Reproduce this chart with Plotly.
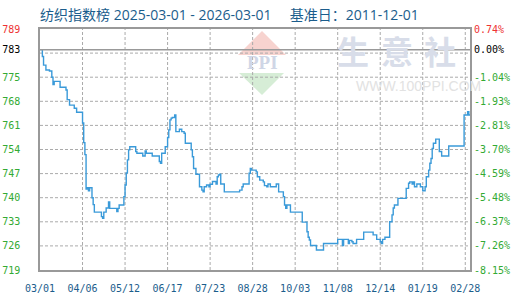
import pandas as pd
import plotly.graph_objects as go

start_date = "2025-03-01"
end_date = "2026-02-28"

# days since 2025-03-01 where the index changes, and the index value from that day
day_offsets = [0, 2, 3, 5, 8, 10, 11, 12, 17, 22, 23, 25, 29, 31, 36, 37, 38, 39, 40, 41,
               42, 44, 45, 46, 52, 53, 54, 56, 58, 59, 65, 66, 67, 71, 72, 73, 74, 75, 76, 81,
               82, 87, 89, 90, 95, 101, 102, 103, 106, 108, 109, 110, 111, 112, 114, 115, 118, 120, 122, 123,
               128, 129, 130, 132, 135, 137, 138, 139, 141, 143, 144, 146, 149, 150, 151, 152, 153, 156, 169, 171,
               172, 177, 178, 179, 183, 184, 186, 189, 190, 192, 193, 195, 200, 202, 206, 207, 208, 209, 212, 222,
               226, 227, 228, 229, 234, 240, 252, 256, 257, 261, 262, 264, 265, 268, 274, 282, 285, 288, 289, 290,
               292, 296, 298, 299, 300, 303, 310, 312, 313, 315, 316, 317, 319, 322, 324, 326, 327, 329, 330, 331,
               332, 333, 335, 338, 340, 346, 359, 362, 363, 364]
index_values = [783.0, 781.0, 778.5, 777.1, 776.8, 775.0, 772.9, 773.8, 772.1, 771.3, 768.5, 766.9, 766.0, 764.8, 761.7, 756.0, 752.5, 742.5, 742.9, 742.0,
                742.9, 740.0, 738.0, 735.8, 734.5, 734.0, 735.8, 737.0, 738.8, 736.9, 736.0, 736.9, 737.9, 740.3, 743.7, 747.2, 751.0, 753.9, 754.8, 753.4,
                752.9, 752.1, 753.6, 752.9, 752.1, 750.5, 750.0, 752.9, 754.8, 757.5, 759.7, 762.6, 763.1, 763.3, 764.0, 759.2, 759.9, 759.2, 758.7, 755.8,
                753.9, 751.9, 748.5, 746.8, 743.2, 742.2, 741.7, 743.2, 743.7, 743.2, 743.9, 744.7, 744.0, 746.1, 746.6, 746.8, 744.0, 741.7, 742.2, 743.2,
                744.0, 747.1, 748.5, 748.0, 747.5, 746.1, 745.1, 744.6, 743.5, 743.2, 744.0, 743.2, 744.0, 741.7, 740.3, 737.9, 736.9, 737.9, 735.8, 732.9,
                730.1, 728.5, 727.7, 726.1, 724.8, 726.7, 727.9, 726.1, 727.9, 726.7, 727.6, 727.2, 726.7, 727.9, 730.0, 729.2, 727.9, 727.2, 726.7, 727.9,
                728.5, 733.0, 735.0, 737.0, 737.9, 739.8, 742.7, 744.2, 744.6, 744.0, 744.6, 743.2, 744.0, 743.2, 742.0, 743.2, 746.1, 748.0, 750.0, 751.4,
                754.3, 755.8, 757.0, 753.4, 752.1, 755.0, 764.0, 765.0, 764.0, 764.0]

base_value = 783.0
y_min, y_max = 719, 789
y_tick_vals = [719, 726, 733, 740, 747, 754, 761, 768, 775, 782, 783, 789]
y_tick_text = ["719", "726", "733", "740", "747", "754", "761", "768", "775", "", "783", "789"]
pct_tick_text = ["-8.15%", "-7.26%", "-6.37%", "-5.48%", "-4.59%", "-3.70%", "-2.81%",
                 "-1.93%", "-1.04%", "", "0.00%", "0.74%"]
x_tick_dates = ["2025-03-01", "2025-04-06", "2025-05-12", "2025-06-17", "2025-07-23", "2025-08-28",
                "2025-10-03", "2025-11-08", "2025-12-14", "2026-01-19", "2026-02-24"]
x_tick_text = ["03/01", "04/06", "05/12", "06/17", "07/23", "08/28",
               "10/03", "11/08", "12/14", "01/19", "02/28"]

GREEN = "#33aa33"
RED = "#ee3333"
BLUE_TXT = "#1b5d8c"
GRID = "#aaaaaa"
FRAME = "#999999"


def colour_label(txt, val):
    if txt == "":
        return ""
    if val == y_max:
        c = RED
    elif val == base_value:
        c = "#000000"
    else:
        c = GREEN
    return f'<span style="color:{c}">{txt}</span>'


left_labels = [colour_label(t, v) for t, v in zip(y_tick_text, y_tick_vals)]
right_labels = [colour_label(t, v) for t, v in zip(pct_tick_text, y_tick_vals)]

dates = pd.Timestamp(start_date) + pd.to_timedelta(day_offsets, unit="D")

fig = go.Figure()

# dashed grid at the tick positions
gx, gy = [], []
for v in y_tick_vals:
    if v in (base_value, y_max, y_min):
        continue
    gx += [start_date, end_date, None]
    gy += [v, v, None]
for d in x_tick_dates[1:]:
    gx += [d, d, None]
    gy += [y_min, y_max, None]
fig.add_trace(go.Scatter(x=gx, y=gy, mode="lines", hoverinfo="skip", showlegend=False,
                         line=dict(color=GRID, width=1, dash="3px,2px")))

fig.add_trace(go.Scatter(x=dates, y=index_values, mode="lines", line_shape="hv",
                         line=dict(color="#3a9ad9", width=1.4), hoverinfo="skip",
                         showlegend=False))
fig.add_trace(go.Scatter(x=dates, y=index_values, mode="lines", yaxis="y2",
                         line=dict(color="rgba(0,0,0,0)", width=0), hoverinfo="skip",
                         showlegend=False))

# watermark (decoration), paper coords: x=(px-40)/430, y=(270-py)/241
fig.add_shape(type="path", xref="paper", yref="paper", layer="below",
              path="M 0.5163 0.9917 L 0.5721 0.8921 L 0.4605 0.8921 Z",
              fillcolor="#f7d3cf", line=dict(width=0))
fig.add_shape(type="path", xref="paper", yref="paper", layer="below",
              path="M 0.4628 0.8174 L 0.5674 0.8174 L 0.5163 0.7261 Z",
              fillcolor="#d6edd6", line=dict(width=0))
fig.add_annotation(xref="paper", yref="paper", x=0.5163, y=0.859, yanchor="middle",
                   text="<b>PPI</b>", showarrow=False,
                   font=dict(family="Liberation Serif", size=19, color="#cfd6e6"))
for ch, xp in zip(["生", "意", "社"], [0.770, 0.872, 0.972]):
    fig.add_annotation(xref="paper", yref="paper", x=xp, y=0.913, yanchor="middle",
                       text=f"<b>{ch}</b>", showarrow=False,
                       font=dict(family="Noto Sans CJK SC", size=32, color="#d8dde9"))
fig.add_annotation(xref="paper", yref="paper", x=0.731, y=0.763, xanchor="left", yanchor="middle",
                   text="WWW.100PPI.COM", showarrow=False,
                   font=dict(family="Liberation Sans", size=14, color="#e2e2e2"))

# base line
fig.add_shape(type="line", xref="paper", yref="y", x0=0, x1=1, y0=base_value, y1=base_value,
              line=dict(color=FRAME, width=1.5))

fig.update_layout(
    width=520, height=300,
    margin=dict(l=40, r=50, t=29, b=30, autoexpand=False),
    paper_bgcolor="white", plot_bgcolor="white",
    title=dict(text="纺织指数榜 2025-03-01 - 2026-03-01&nbsp;&nbsp;&nbsp;&nbsp;&nbsp;基准日：2011-12-01",
               x=40 / 520, xanchor="left", y=1 - 15.5 / 300, yanchor="middle",
               font=dict(family="Open Sans, Noto Sans CJK SC", size=14, color=BLUE_TXT)),
    xaxis=dict(type="date", range=[start_date, end_date], tickvals=x_tick_dates,
               ticktext=x_tick_text, showgrid=False,
               showline=True, linecolor=FRAME, linewidth=1.5, mirror=True,
               ticks="", ticklabelstandoff=8, zeroline=False, automargin=False,
               tickfont=dict(family="DejaVu Sans Mono", size=10, color=BLUE_TXT)),
    yaxis=dict(range=[y_min, y_max], tickvals=y_tick_vals, ticktext=left_labels,
               showgrid=False,
               showline=True, linecolor=FRAME, linewidth=1.5, mirror=True,
               ticks="", ticklabelstandoff=16, zeroline=False, automargin=False,
               tickfont=dict(family="DejaVu Sans Mono", size=10, color=GREEN)),
    yaxis2=dict(range=[y_min, y_max], overlaying="y", side="right", tickvals=y_tick_vals,
                ticktext=right_labels, showgrid=False, ticks="", ticklabelstandoff=3,
                zeroline=False, showline=False, automargin=False,
                tickfont=dict(family="DejaVu Sans Mono", size=10, color=GREEN)),
    showlegend=False,
)

fig.write_html("out.html")
